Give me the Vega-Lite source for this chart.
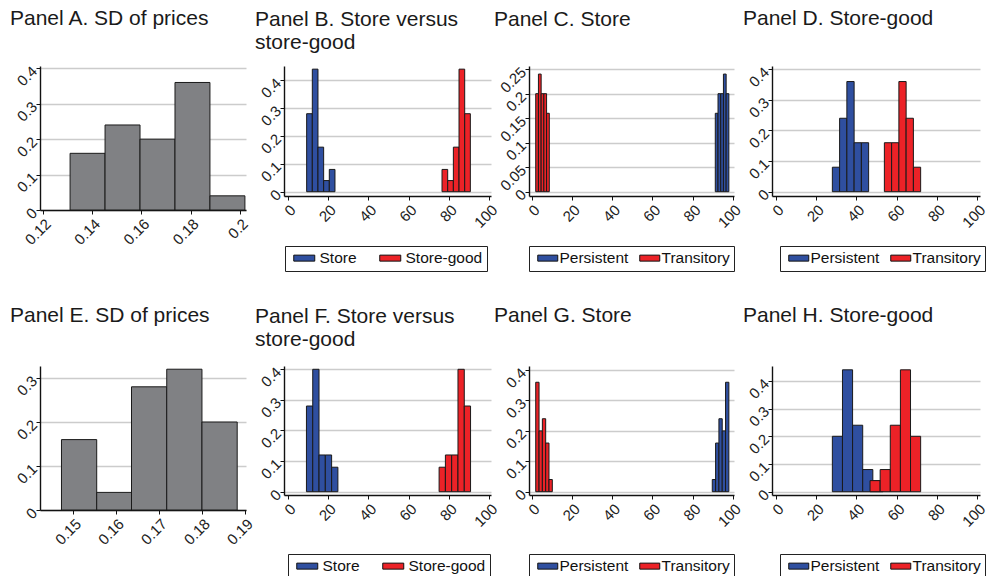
{
  "$schema": "https://vega.github.io/schema/vega-lite/v6.json",
  "background": "white",
  "padding": {"left": 10, "top": 8, "right": 5, "bottom": 0},
  "config": {
    "view": {"stroke": null},
    "font": "Liberation Sans",
    "bar": {"stroke": "#1a1a1a", "strokeWidth": 1},
    "axis": {"domainColor": "#111", "domainWidth": 1.4, "tickColor": "#111", "tickWidth": 1, "tickSize": 4, "labelFont": "Liberation Sans", "labelFontSize": 15, "labelColor": "#222", "labelAngle": -45, "labelOverlap": false, "labelFlush": false, "labelBound": false, "gridColor": "#cccccc", "gridWidth": 1.5, "labelPadding": 2},
    "axisX": {"grid": false, "labelAlign": "right", "labelBaseline": "top"},
    "axisY": {"grid": true, "labelAlign": "right", "labelBaseline": "middle"},
    "title": {"font": "Liberation Sans", "fontSize": 21, "fontWeight": "normal", "anchor": "start", "color": "#1a1a1a", "lineHeight": 23.5, "frame": "group"},
    "legend": {"labelFont": "Liberation Sans", "labelFontSize": 15.5, "labelColor": "#111"}
  },
  "datasets": {
    "A": [
      {"x0": 0.131, "x1": 0.1452, "y": 0.16},
      {"x0": 0.1452, "x1": 0.1594, "y": 0.24},
      {"x0": 0.1594, "x1": 0.1736, "y": 0.20},
      {"x0": 0.1736, "x1": 0.1878, "y": 0.36},
      {"x0": 0.1878, "x1": 0.2020, "y": 0.04}
    ],
    "B": [
      {"s": "Store", "x0": 9.4, "x1": 12.21, "y": 0.28},
      {"s": "Store", "x0": 12.21, "x1": 15.02, "y": 0.44},
      {"s": "Store", "x0": 15.02, "x1": 17.83, "y": 0.16},
      {"s": "Store", "x0": 17.83, "x1": 20.64, "y": 0.04},
      {"s": "Store", "x0": 20.64, "x1": 23.45, "y": 0.08},
      {"s": "Store-good", "x0": 76.55, "x1": 79.36, "y": 0.08},
      {"s": "Store-good", "x0": 79.36, "x1": 82.17, "y": 0.04},
      {"s": "Store-good", "x0": 82.17, "x1": 84.98, "y": 0.16},
      {"s": "Store-good", "x0": 84.98, "x1": 87.79, "y": 0.44},
      {"s": "Store-good", "x0": 87.79, "x1": 90.6, "y": 0.28}
    ],
    "C": [
      {"s": "Transitory", "x0": 2.0, "x1": 3.35, "y": 0.20},
      {"s": "Transitory", "x0": 3.35, "x1": 4.7, "y": 0.24},
      {"s": "Transitory", "x0": 4.7, "x1": 6.05, "y": 0.20},
      {"s": "Transitory", "x0": 6.05, "x1": 7.4, "y": 0.20},
      {"s": "Transitory", "x0": 7.4, "x1": 8.75, "y": 0.16},
      {"s": "Persistent", "x0": 91.25, "x1": 92.6, "y": 0.16},
      {"s": "Persistent", "x0": 92.6, "x1": 93.95, "y": 0.20},
      {"s": "Persistent", "x0": 93.95, "x1": 95.3, "y": 0.20},
      {"s": "Persistent", "x0": 95.3, "x1": 96.65, "y": 0.24},
      {"s": "Persistent", "x0": 96.65, "x1": 98.0, "y": 0.20}
    ],
    "D": [
      {"s": "Persistent", "x0": 28.1, "x1": 31.7, "y": 0.08},
      {"s": "Persistent", "x0": 31.7, "x1": 35.3, "y": 0.24},
      {"s": "Persistent", "x0": 35.3, "x1": 38.9, "y": 0.36},
      {"s": "Persistent", "x0": 38.9, "x1": 42.5, "y": 0.16},
      {"s": "Persistent", "x0": 42.5, "x1": 46.1, "y": 0.16},
      {"s": "Transitory", "x0": 53.9, "x1": 57.5, "y": 0.16},
      {"s": "Transitory", "x0": 57.5, "x1": 61.1, "y": 0.16},
      {"s": "Transitory", "x0": 61.1, "x1": 64.7, "y": 0.36},
      {"s": "Transitory", "x0": 64.7, "x1": 68.3, "y": 0.24},
      {"s": "Transitory", "x0": 68.3, "x1": 71.9, "y": 0.08}
    ],
    "E": [
      {"x0": 0.1473, "x1": 0.1555, "y": 0.16},
      {"x0": 0.1555, "x1": 0.1636, "y": 0.04},
      {"x0": 0.1636, "x1": 0.1718, "y": 0.28},
      {"x0": 0.1718, "x1": 0.1800, "y": 0.32},
      {"x0": 0.1800, "x1": 0.1882, "y": 0.20}
    ],
    "F": [
      {"s": "Store", "x0": 9.3, "x1": 12.42, "y": 0.28},
      {"s": "Store", "x0": 12.42, "x1": 15.54, "y": 0.40},
      {"s": "Store", "x0": 15.54, "x1": 18.66, "y": 0.12},
      {"s": "Store", "x0": 18.66, "x1": 21.78, "y": 0.12},
      {"s": "Store", "x0": 21.78, "x1": 24.9, "y": 0.08},
      {"s": "Store-good", "x0": 75.1, "x1": 78.22, "y": 0.08},
      {"s": "Store-good", "x0": 78.22, "x1": 81.34, "y": 0.12},
      {"s": "Store-good", "x0": 81.34, "x1": 84.46, "y": 0.12},
      {"s": "Store-good", "x0": 84.46, "x1": 87.58, "y": 0.40},
      {"s": "Store-good", "x0": 87.58, "x1": 90.7, "y": 0.28}
    ],
    "G": [
      {"s": "Transitory", "x0": 2.0, "x1": 3.65, "y": 0.36},
      {"s": "Transitory", "x0": 3.65, "x1": 5.3, "y": 0.20},
      {"s": "Transitory", "x0": 5.3, "x1": 6.95, "y": 0.24},
      {"s": "Transitory", "x0": 6.95, "x1": 8.6, "y": 0.16},
      {"s": "Transitory", "x0": 8.6, "x1": 10.25, "y": 0.04},
      {"s": "Persistent", "x0": 89.75, "x1": 91.4, "y": 0.04},
      {"s": "Persistent", "x0": 91.4, "x1": 93.05, "y": 0.16},
      {"s": "Persistent", "x0": 93.05, "x1": 94.7, "y": 0.24},
      {"s": "Persistent", "x0": 94.7, "x1": 96.35, "y": 0.20},
      {"s": "Persistent", "x0": 96.35, "x1": 98.0, "y": 0.36}
    ],
    "H": [
      {"s": "Persistent", "x0": 28.1, "x1": 33.12, "y": 0.20},
      {"s": "Persistent", "x0": 33.12, "x1": 38.14, "y": 0.44},
      {"s": "Persistent", "x0": 38.14, "x1": 43.16, "y": 0.24},
      {"s": "Persistent", "x0": 43.16, "x1": 48.18, "y": 0.08},
      {"s": "Persistent", "x0": 48.18, "x1": 53.2, "y": 0.04},
      {"s": "Transitory", "x0": 46.8, "x1": 51.82, "y": 0.04},
      {"s": "Transitory", "x0": 51.82, "x1": 56.84, "y": 0.08},
      {"s": "Transitory", "x0": 56.84, "x1": 61.86, "y": 0.24},
      {"s": "Transitory", "x0": 61.86, "x1": 66.88, "y": 0.44},
      {"s": "Transitory", "x0": 66.88, "x1": 71.9, "y": 0.20}
    ]
  },
  "columns": 4,
  "bounds": "flush",
  "spacing": {"row": 156, "column": 38},
  "resolve": {"scale": {"color": "independent", "x": "independent", "y": "independent"}, "legend": {"color": "independent"}},
  "concat": [
    {
      "width": 206, "height": 144,
      "title": {"text": "Panel A. SD of prices", "dx": -30, "offset": 34},
      "data": {"name": "A"},
      "mark": {"type": "bar", "color": "#808184", "stroke": "#1a1a1a"},
      "encoding": {
        "x": {"field": "x0", "type": "quantitative", "scale": {"domain": [0.11878, 0.20244], "nice": false, "zero": false}, "axis": {"title": null, "values": [0.12, 0.14, 0.16, 0.18, 0.2], "format": "~r"}},
        "x2": {"field": "x1"},
        "y": {"field": "y", "type": "quantitative", "scale": {"domain": [0, 0.4065], "nice": false, "zero": false}, "axis": {"title": null, "values": [0, 0.1, 0.2, 0.3, 0.4], "format": "~r"}},
        "y2": {"datum": 0}
      }
    },
    {
      "width": 207, "height": 130,
      "title": {"text": ["Panel B. Store versus", "store-good"], "dx": -29, "offset": 13},
      "data": {"name": "B"},
      "mark": "bar",
      "encoding": {
        "x": {"field": "x0", "type": "quantitative", "scale": {"domain": [-1.835, 100.84], "nice": false, "zero": false}, "axis": {"title": null, "values": [0, 20, 40, 60, 80, 100], "format": "~r"}},
        "x2": {"field": "x1"},
        "y": {"field": "y", "type": "quantitative", "scale": {"domain": [-0.0154, 0.4513], "nice": false, "zero": false}, "axis": {"title": null, "values": [0, 0.1, 0.2, 0.3, 0.4], "format": "~r"}},
        "y2": {"datum": 0},
        "color": {"field": "s", "type": "nominal", "scale": {"domain": ["Store", "Store-good"], "range": ["#2f4fa0", "#ec2227"]},
          "legend": {"title": null, "orient": "none", "legendX": 1, "legendY": 180, "direction": "horizontal", "strokeColor": "#222", "padding": 4, "symbolType": "M-1,-1H6V1H-1Z", "symbolSize": 36, "symbolStrokeColor": "#111", "symbolStrokeWidth": 1, "symbolOpacity": 1, "labelOffset": 15, "columnPadding": 18}}
      }
    },
    {
      "width": 205, "height": 130,
      "title": {"text": "Panel C. Store", "dx": -35, "offset": 34},
      "data": {"name": "C"},
      "mark": "bar",
      "encoding": {
        "x": {"field": "x0", "type": "quantitative", "scale": {"domain": [-1.34, 100.55], "nice": false, "zero": false}, "axis": {"title": null, "values": [0, 20, 40, 60, 80, 100], "format": "~r"}},
        "x2": {"field": "x1"},
        "y": {"field": "y", "type": "quantitative", "scale": {"domain": [-0.0088, 0.2565], "nice": false, "zero": false}, "axis": {"title": null, "values": [0, 0.05, 0.1, 0.15, 0.2, 0.25], "format": "~r"}},
        "y2": {"datum": 0},
        "color": {"field": "s", "type": "nominal", "scale": {"domain": ["Persistent", "Transitory"], "range": ["#2f4fa0", "#ec2227"]},
          "legend": {"title": null, "orient": "none", "legendX": 0, "legendY": 180, "direction": "horizontal", "strokeColor": "#222", "padding": 4, "symbolType": "M-1,-1H5.67V1H-1Z", "symbolSize": 36, "symbolStrokeColor": "#111", "symbolStrokeWidth": 1, "symbolOpacity": 1, "labelOffset": 11, "columnPadding": 6}}
      }
    },
    {
      "width": 208, "height": 130,
      "title": {"text": "Panel D. Store-good", "dx": -29, "offset": 35},
      "data": {"name": "D"},
      "mark": "bar",
      "encoding": {
        "x": {"field": "x0", "type": "quantitative", "scale": {"domain": [-1.835, 101.34], "nice": false, "zero": false}, "axis": {"title": null, "values": [0, 20, 40, 60, 80, 100], "format": "~r"}},
        "x2": {"field": "x1"},
        "y": {"field": "y", "type": "quantitative", "scale": {"domain": [-0.0141, 0.4108], "nice": false, "zero": false}, "axis": {"title": null, "values": [0, 0.1, 0.2, 0.3, 0.4], "format": "~r"}},
        "y2": {"datum": 0},
        "color": {"field": "s", "type": "nominal", "scale": {"domain": ["Persistent", "Transitory"], "range": ["#2f4fa0", "#ec2227"]},
          "legend": {"title": null, "orient": "none", "legendX": 8, "legendY": 180, "direction": "horizontal", "strokeColor": "#222", "padding": 4, "symbolType": "M-1,-1H5.67V1H-1Z", "symbolSize": 36, "symbolStrokeColor": "#111", "symbolStrokeWidth": 1, "symbolOpacity": 1, "labelOffset": 11, "columnPadding": 6}}
      }
    },
    {
      "width": 206, "height": 144,
      "title": {"text": "Panel E. SD of prices", "dx": -30, "offset": 40},
      "data": {"name": "E"},
      "mark": {"type": "bar", "color": "#808184", "stroke": "#1a1a1a"},
      "encoding": {
        "x": {"field": "x0", "type": "quantitative", "scale": {"domain": [0.1423, 0.19025], "nice": false, "zero": false}, "axis": {"title": null, "values": [0.15, 0.16, 0.17, 0.18, 0.19], "format": "~r"}},
        "x2": {"field": "x1"},
        "y": {"field": "y", "type": "quantitative", "scale": {"domain": [0, 0.3273], "nice": false, "zero": false}, "axis": {"title": null, "values": [0, 0.1, 0.2, 0.3], "format": "~r"}},
        "y2": {"datum": 0}
      }
    },
    {
      "width": 207, "height": 129,
      "title": {"text": ["Panel F. Store versus", "store-good"], "dx": -29, "offset": 14},
      "data": {"name": "F"},
      "mark": "bar",
      "encoding": {
        "x": {"field": "x0", "type": "quantitative", "scale": {"domain": [-1.835, 100.84], "nice": false, "zero": false}, "axis": {"title": null, "values": [0, 20, 40, 60, 80, 100], "format": "~r"}},
        "x2": {"field": "x1"},
        "y": {"field": "y", "type": "quantitative", "scale": {"domain": [-0.0108, 0.4108], "nice": false, "zero": false}, "axis": {"title": null, "values": [0, 0.1, 0.2, 0.3, 0.4], "format": "~r"}},
        "y2": {"datum": 0},
        "color": {"field": "s", "type": "nominal", "scale": {"domain": ["Store", "Store-good"], "range": ["#2f4fa0", "#ec2227"]},
          "legend": {"title": null, "orient": "none", "legendX": 4, "legendY": 188, "direction": "horizontal", "strokeColor": "#222", "padding": 4, "symbolType": "M-1,-1H6V1H-1Z", "symbolSize": 36, "symbolStrokeColor": "#111", "symbolStrokeWidth": 1, "symbolOpacity": 1, "labelOffset": 15, "columnPadding": 18}}
      }
    },
    {
      "width": 205, "height": 129,
      "title": {"text": "Panel G. Store", "dx": -35, "offset": 39},
      "data": {"name": "G"},
      "mark": "bar",
      "encoding": {
        "x": {"field": "x0", "type": "quantitative", "scale": {"domain": [-1.34, 100.55], "nice": false, "zero": false}, "axis": {"title": null, "values": [0, 20, 40, 60, 80, 100], "format": "~r"}},
        "x2": {"field": "x1"},
        "y": {"field": "y", "type": "quantitative", "scale": {"domain": [-0.0109, 0.4135], "nice": false, "zero": false}, "axis": {"title": null, "values": [0, 0.1, 0.2, 0.3, 0.4], "format": "~r"}},
        "y2": {"datum": 0},
        "color": {"field": "s", "type": "nominal", "scale": {"domain": ["Persistent", "Transitory"], "range": ["#2f4fa0", "#ec2227"]},
          "legend": {"title": null, "orient": "none", "legendX": 0, "legendY": 188, "direction": "horizontal", "strokeColor": "#222", "padding": 4, "symbolType": "M-1,-1H5.67V1H-1Z", "symbolSize": 36, "symbolStrokeColor": "#111", "symbolStrokeWidth": 1, "symbolOpacity": 1, "labelOffset": 11, "columnPadding": 6}}
      }
    },
    {
      "width": 208, "height": 129,
      "title": {"text": "Panel H. Store-good", "dx": -29, "offset": 40},
      "data": {"name": "H"},
      "mark": "bar",
      "encoding": {
        "x": {"field": "x0", "type": "quantitative", "scale": {"domain": [-1.835, 101.34], "nice": false, "zero": false}, "axis": {"title": null, "values": [0, 20, 40, 60, 80, 100], "format": "~r"}},
        "x2": {"field": "x1"},
        "y": {"field": "y", "type": "quantitative", "scale": {"domain": [-0.0119, 0.4538], "nice": false, "zero": false}, "axis": {"title": null, "values": [0, 0.1, 0.2, 0.3, 0.4], "format": "~r"}},
        "y2": {"datum": 0},
        "color": {"field": "s", "type": "nominal", "scale": {"domain": ["Persistent", "Transitory"], "range": ["#2f4fa0", "#ec2227"]},
          "legend": {"title": null, "orient": "none", "legendX": 8, "legendY": 188, "direction": "horizontal", "strokeColor": "#222", "padding": 4, "symbolType": "M-1,-1H5.67V1H-1Z", "symbolSize": 36, "symbolStrokeColor": "#111", "symbolStrokeWidth": 1, "symbolOpacity": 1, "labelOffset": 11, "columnPadding": 6}}
      }
    }
  ]
}
